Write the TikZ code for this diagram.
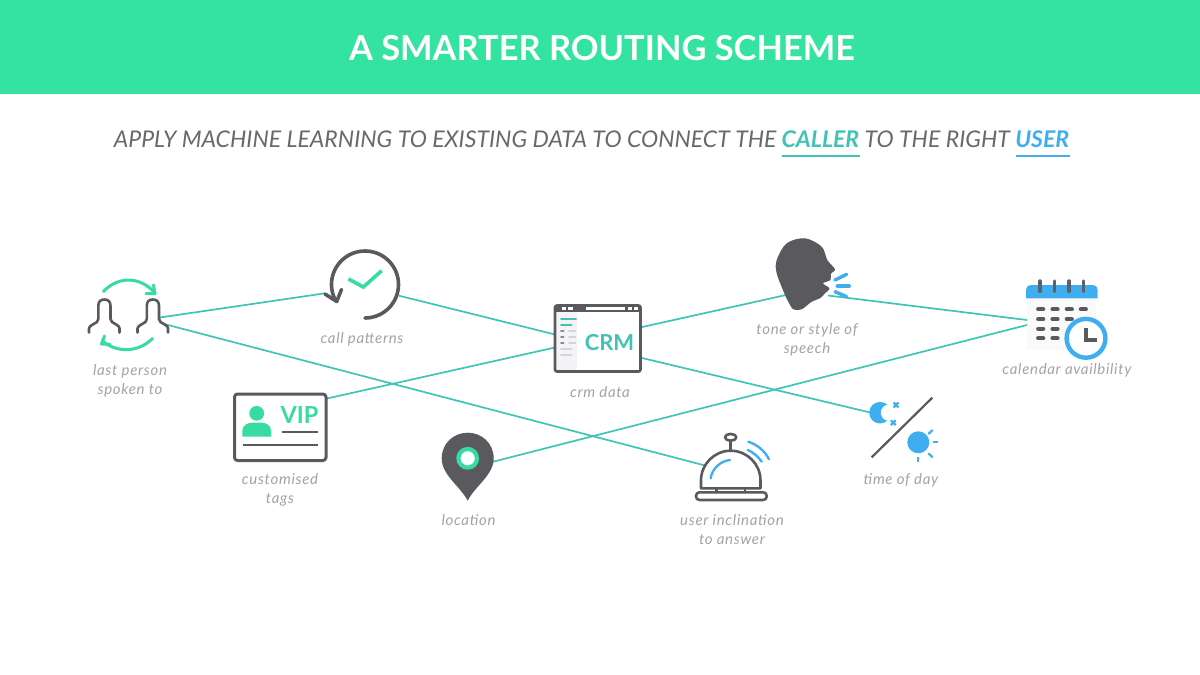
\documentclass[tikz,border=0pt]{standalone}
\usepackage{fontspec}
\setmainfont{Lato}
\definecolor{hdr}{HTML}{34E39F}
\definecolor{ico}{HTML}{5A5A5E}
\definecolor{grn}{HTML}{36DCA0}
\definecolor{blu}{HTML}{3FAEF0}
\definecolor{lnk}{HTML}{3FC5B8}
\definecolor{lab}{HTML}{A3A3A8}
\definecolor{sub}{HTML}{68686D}
\definecolor{crmt}{HTML}{40C3B4}
\definecolor{side}{HTML}{F4F4F6}
\definecolor{sideb}{HTML}{D4D4D8}
\tikzset{
 x=1pt,y=-1pt,
 link/.style={draw=lnk,line width=1.7pt},
 lbl/.style={inner sep=0pt,align=center,text=lab,font=\fontsize{15}{19}\selectfont\itshape\addfontfeature{LetterSpace=4.5}},
 gicon/.style={draw=ico,line width=2.6pt,line cap=round,line join=round},
 gr/.style={draw=grn,line width=3pt,line cap=round,line join=round},
 bl/.style={draw=blu,line width=3.4pt,line cap=round,line join=round},
 bit/.style={line width=2pt,line cap=round},
}
\begin{document}
\begin{tikzpicture}
\useasboundingbox (0,0) rectangle (1200,675);
\fill[white] (0,0) rectangle (1200,675);
\fill[hdr] (0,0) rectangle (1200,94);
\node[inner sep=0pt,text=white,font=\fontsize{34.4}{38}\selectfont\bfseries] (title) at (602,48) {A SMARTER ROUTING SCHEME};
\node[inner sep=0pt,text=sub,font=\fontsize{23}{26}\selectfont\itshape,anchor=base] (subtitle) at (591.5,147) {APPLY MACHINE LEARNING TO EXISTING DATA TO CONNECT THE {\bfseries\color{crmt}CALLER} TO THE RIGHT {\bfseries\color{blu}USER}};
\coordinate (ulA) at (782,156); \coordinate (ulB) at (860,156);
\coordinate (ulC) at (1016,156); \coordinate (ulD) at (1070,156);
\draw[draw=crmt,line width=2.4pt] (ulA) -- (ulB);
\draw[draw=blu,line width=2.4pt] (ulC) -- (ulD);
% ports
\coordinate (lastA) at (160,317.5);
\coordinate (lastB) at (166,324.5);
\coordinate (clockIn) at (325,293.3);
\coordinate (clockOut) at (399,295.7);
\coordinate (crmL1) at (555,334.5);
\coordinate (crmL2) at (555,347.5);
\coordinate (crmR1) at (640,327.5);
\coordinate (crmR2) at (640,357.5);
\coordinate (vipOut) at (327,398.5);
\coordinate (headIn) at (786,295);
\coordinate (headOut) at (828,295.5);
\coordinate (moonIn) at (871,412.7);
\coordinate (bellIn) at (705,465.5);
\coordinate (pinOut) at (492,462);
\coordinate (calA) at (1027,320);
\coordinate (calB) at (1027,325);
% connectors
\draw[link] (lastA) -- (clockIn);
\draw[link] (lastB) -- (bellIn);
\draw[link] (clockOut) -- (crmL1);
\draw[link] (vipOut) -- (crmL2);
\draw[link] (crmR1) -- (headIn);
\draw[link] (crmR2) -- (moonIn);
\draw[link] (headOut) -- (calA);
\draw[link] (pinOut) -- (calB);
% last person icon
\foreach \d in {0,48.5}{
\begin{scope}[xshift=\d pt]
\draw[gicon] (89,332.5) -- (89,328.5) .. controls (89.5,326.5) and (90.5,326) .. (92,325) -- (97,322) .. controls (98,321.2) and (98.3,320.5) .. (98.3,319) -- (98.3,306) .. controls (98.3,301.5) and (100.5,299.5) .. (104.3,299.5) .. controls (108.2,299.5) and (110.5,301.5) .. (110.5,306) -- (110.5,319) .. controls (110.5,320.5) and (111,321.2) .. (112,322) -- (117,325) .. controls (118.5,326) and (119.3,326.5) .. (119.5,328.5) -- (119.5,332.5);
\end{scope}}
\draw[gr] (103.5,291.5) .. controls (118,276) and (140,276) .. (155,293);
\draw[gr] (146,293.5) -- (155,293.5) -- (153.5,285);
\draw[gr] (152.5,338.5) .. controls (138,353) and (116,353) .. (102,340.5);
\draw[gr] (110,344.5) -- (101.5,344) -- (104.5,336);
\node[lbl] (lastL) at (130,380.5) {last person\\spoken to};
% clock icon
\draw[draw=ico,line width=3.6pt,line cap=round] plot[domain=-204:90,samples=60] ({365+33.5*cos(\x)},{284.5+33.5*sin(\x)});
\draw[draw=ico,line width=3.6pt,line cap=round,line join=round] (325,294) -- (336.7,301.5) -- (341.5,289.5);
\draw[gr,line width=3.6pt,line cap=butt,line join=miter] (348.5,279) -- (363.3,287) -- (381.7,270.7);
\node[lbl] (callL) at (362,339.5) {call patterns};
% VIP card
\draw[gicon,line width=3pt,rounded corners=3pt,fill=white] (234.5,394) rectangle (326,460.5);
\fill[grn] (256.7,413.3) circle[radius=7.4pt];
\fill[grn] (242.3,436.7) -- (242.3,431) .. controls (242.3,425) and (248,422.7) .. (252,422.7) -- (261.5,422.7) .. controls (266,422.7) and (271,425) .. (271,431) -- (271,436.7) -- cycle;
\node[inner sep=0pt,text=grn,font=\fontsize{23.5}{26}\selectfont\bfseries] (vipT) at (299.5,414.5) {VIP};
\draw[draw=ico,line width=2.3pt] (281.7,431.7) -- (318.3,431.7);
\draw[draw=ico,line width=2.3pt] (242.7,445) -- (318.3,445);
\node[lbl] (vipL) at (280,489.5) {customised\\tags};
% location
\fill[ico] (467.7,500.7) .. controls (460,486) and (441.7,475) .. (441.7,458.5) .. controls (441.7,443) and (454,432.7) .. (467.7,432.7) .. controls (481.5,432.7) and (493.7,443) .. (493.7,458.5) .. controls (493.7,475) and (475,486) .. (467.7,500.7) -- cycle;
\fill[white] (467.7,458.3) circle[radius=8.5pt];
\draw[draw=grn,line width=4.2pt] (467.7,458.3) circle[radius=9.3pt];
\node[lbl] (pinL) at (468.5,520.5) {location};
% CRM window
\fill[side] (556,312) rectangle (577,371);
\draw[draw=ico,line width=2.6pt,rounded corners=2pt] (555,305.5) rectangle (640.5,371.5);
\fill[ico] (555,305.5) rectangle (640.5,311.5);
\fill[white] (586,307.3) rectangle (625,309.5);
\foreach \xa/\xb in {562/566,568/573,628/632,634/638}{\fill[white] (\xa,307.3) rectangle (\xb,309.5);}
\draw[bit,draw=crmt] (561,318.7) -- (576,318.7);
\draw[bit,draw=crmt] (561,324.7) -- (571.5,324.7);
\foreach \y in {330.7,336.7,342.7}{
 \draw[bit,draw=ico!70] (561,\y) -- (563.5,\y);
 \draw[bit,draw=sideb] (569,\y) -- (575.5,\y);}
\draw[bit,draw=sideb] (561,348.7) -- (571.5,348.7);
\draw[bit,draw=sideb] (561,354.7) -- (571.5,354.7);
\node[inner sep=0pt,text=crmt,font=\fontsize{22}{25}\selectfont\bfseries] (crmT) at (609.5,342.3) {CRM};
\node[lbl] (crmL) at (600,392.5) {crm data};
% bell
\draw[gicon] (730.7,440.7) -- (730.7,450.7);
\draw[gicon] (730.7,437.3) ellipse[x radius=5.7pt,y radius=3.4pt];
\draw[gicon] (701,488.3) -- (701,480.5) .. controls (701,464) and (714.5,450.7) .. (730.7,450.7) .. controls (747,450.7) and (760.5,464) .. (760.5,480.5) -- (760.5,488.3) -- cycle;
\draw[gicon] (716.7,488.3) -- (716.7,492.3);
\draw[gicon] (745,488.3) -- (745,492.3);
\draw[gicon,rounded corners=3.5pt] (696,492.3) rectangle (766.7,500);
\draw[draw=blu,line width=2.3pt,line cap=round] (710.7,478.3) .. controls (712,469) and (720,461) .. (730,460);
\draw[draw=blu,line width=2.3pt,line cap=round] (748.3,441.7) .. controls (757,444.5) and (765,451) .. (769,459.3);
\draw[draw=blu,line width=2.3pt,line cap=round] (747.7,450) .. controls (753,452) and (758,456.5) .. (761.7,461.7);
\node[lbl] (bellL) at (732,530) {user inclination\\to answer};
% head
\fill[ico] plot[smooth cycle,tension=0.55] coordinates {(785,295) (776.7,273.3) (776.7,260) (786.7,243.3) (805,238.3) (821.7,246.7) (827.3,260) (835,269.3) (831,273.5) (830.5,280) (823,283.3) (829.5,288.3) (825,293.3) (820,298.3) (811.7,301.7) (801.7,309.3) (793.3,309.3) (788.3,301.7)};
\draw[bl] (835,280) -- (846.7,274.3);
\draw[bl] (837.3,286) -- (849.3,286);
\draw[bl] (835,291.7) -- (846.7,296.7);
\node[lbl] (headL) at (807,339.5) {tone or style of\\speech};
% calendar
\fill[white!98!black] (1027,298) rectangle (1096,350);
\fill[blu] (1026,298.3) -- (1026,290) .. controls (1026,287) and (1028,285) .. (1031,285) -- (1092.7,285) .. controls (1095.7,285) and (1097.7,287) .. (1097.7,290) -- (1097.7,298.3) -- cycle;
\foreach \x in {1040,1054.3,1069,1083.3}{\draw[draw=ico!90!blu,line width=3.4pt,line cap=round] (\x,281) -- (\x,291.5);}
\foreach \x/\y in {1040.7/309.3,1055/309.3,1069.3/309.3,1083.3/309.3,1040.7/319,1055/319,1069.3/319,1040.7/328.7,1055/328.7,1040.7/338.3,1055/338.3}{
 \draw[draw=ico,line width=4.2pt,line cap=round] (\x-2.5,\y) -- (\x+2.5,\y);}
\draw[draw=blu,line width=4.4pt,fill=white] (1086,338.3) circle[radius=19.4pt];
\draw[draw=ico,line width=4pt,line join=miter] (1086,328.3) -- (1086,340) -- (1097,340);
\node[lbl] (calL) at (1067,370.5) {calendar availbility};
% time of day
\fill[blu] (880,412.7) circle[radius=10.8pt];
\fill[white] (889,412.7) circle[radius=8.2pt];
\foreach \x/\y in {896/405,893.3/422.7}{
 \draw[draw=blu,line width=2.2pt] (\x-2.4,\y-2.4) -- (\x+2.4,\y+2.4);
 \draw[draw=blu,line width=2.2pt] (\x-2.4,\y+2.4) -- (\x+2.4,\y-2.4);}
\draw[draw=ico,line width=2.2pt] (932.3,397.7) -- (871.7,457.3);
\fill[blu] (918.3,442.3) circle[radius=11pt];
\foreach \xa/\ya/\xb/\yb in {928.3/434/932.7/430,932.7/442.3/938.3/442.3,928.3/453.3/932.7/457.3,917.7/456.7/917.7/462.3}{
 \draw[draw=blu,line width=2.2pt] (\xa,\ya) -- (\xb,\yb);}
\node[lbl] (timeL) at (901,480.5) {time of day};
\end{tikzpicture}
\end{document}
